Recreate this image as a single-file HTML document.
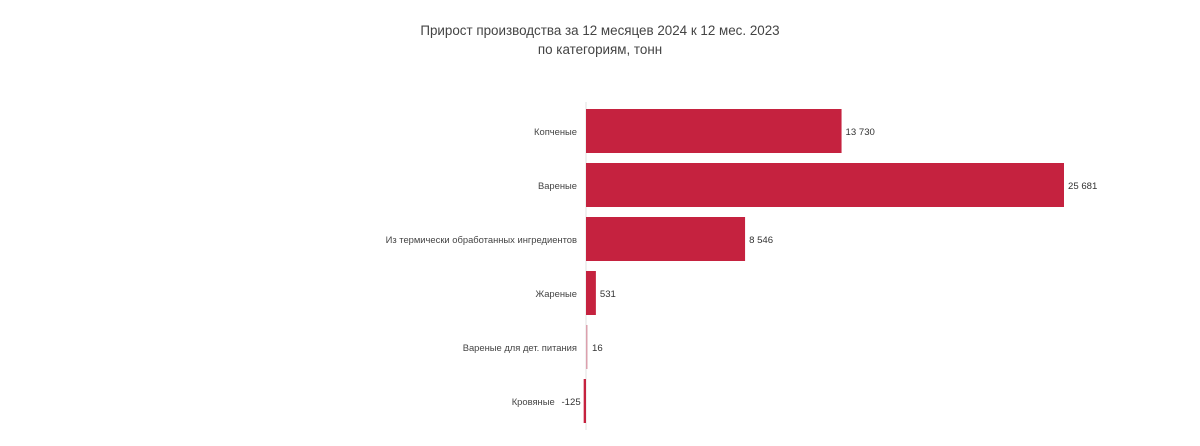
<!DOCTYPE html>
<html><head><meta charset="utf-8"><style>
html,body{margin:0;padding:0;background:#fff;}
svg{display:block;font-family:"Liberation Sans","DejaVu Sans",sans-serif;}
</style></head><body>
<svg id="chart" width="1200" height="446">
<text x="600" y="35" text-anchor="middle" font-size="13.4" fill="#444">Прирост производства за 12 месяцев 2024 к 12 мес. 2023</text>
<text x="600" y="54" text-anchor="middle" font-size="13.4" fill="#444">по категориям, тонн</text>
<line x1="586" y1="102" x2="586" y2="430" stroke="#e0e0e0" stroke-width="1"/>
<g id="bars"></g>
</svg>
<script>
const categories = ["Копченые","Вареные","Из термически обработанных ингредиентов","Жареные","Вареные для дет. питания","Кровяные"];
const values = [13730, 25681, 8546, 531, 16, -125];
const valueLabels = ["13 730","25 681","8 546","531","16","-125"];
const barColors = ["#c5223f","#c5223f","#c5223f","#c5223f","#dba0ad","#c5223f"];

const x0 = 586, pxPerUnit = (1064 - 586) / 25681;
const xScale = v => x0 + v * pxPerUnit;
const bandTop = 109, bandStep = 54, barH = 44;
const yScale = i => bandTop + i * bandStep;
const ns = "http://www.w3.org/2000/svg";
const g = document.getElementById("bars");
categories.forEach((c, i) => {
  const v = values[i];
  const xa = xScale(Math.min(0, v)), xb = xScale(Math.max(0, v));
  const y = yScale(i);
  const r = document.createElementNS(ns, "rect");
  r.setAttribute("x", xa); r.setAttribute("y", y);
  r.setAttribute("width", Math.max(1.5, xb - xa)); r.setAttribute("height", barH);
  r.setAttribute("fill", barColors[i]);
  
  
  g.appendChild(r);
  const cy = y + barH / 2 + 4;
  const vl = document.createElementNS(ns, "text");
  vl.setAttribute("font-size", "9.6"); vl.setAttribute("fill", "#333");
  vl.setAttribute("y", cy);
  if (v >= 0) { vl.setAttribute("x", Math.max(xb, x0 + 2) + 4); }
  else { vl.setAttribute("x", xa - 3); vl.setAttribute("text-anchor", "end"); }
  vl.textContent = valueLabels[i];
  
  
  g.appendChild(vl);
  const cl = document.createElementNS(ns, "text");
  cl.setAttribute("font-size", "9.4"); cl.setAttribute("fill", "#444");
  cl.setAttribute("text-anchor", "end"); cl.setAttribute("y", cy);
  cl.setAttribute("x", v >= 0 ? 577 : xa - 29);
  cl.textContent = c;
  
  
  g.appendChild(cl);
});
</script>
</body></html>
